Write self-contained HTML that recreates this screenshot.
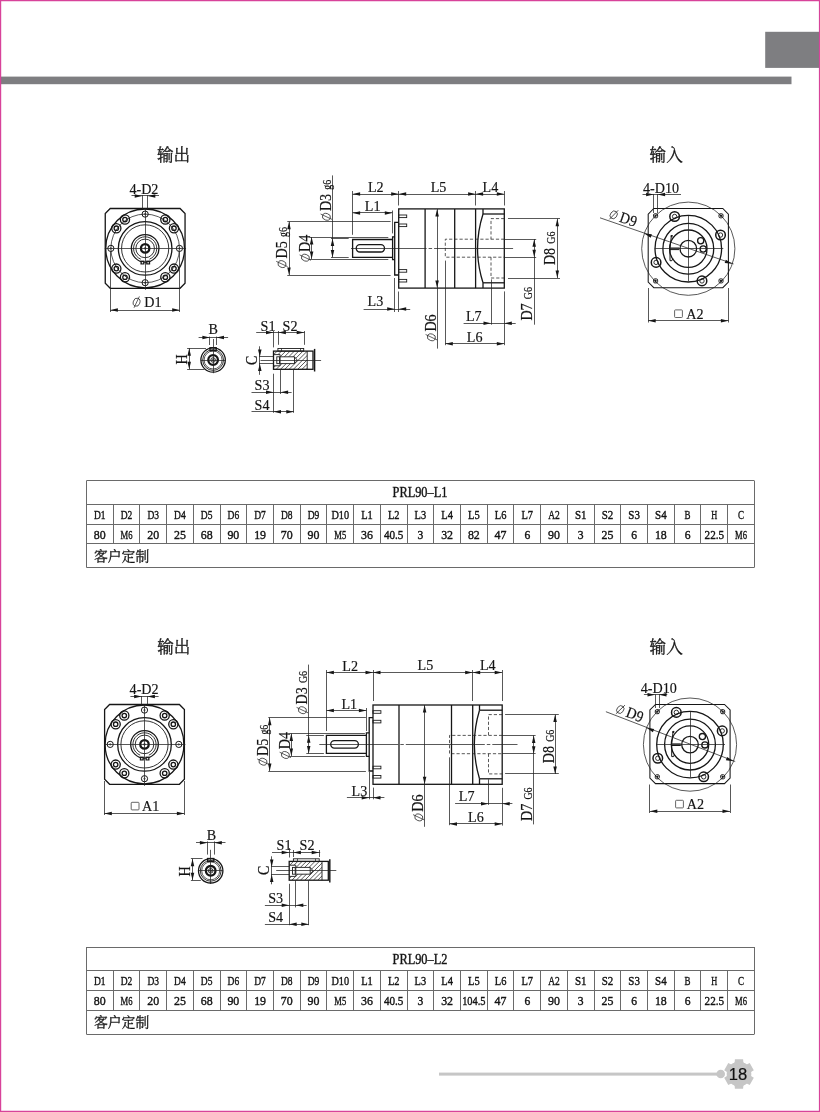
<!DOCTYPE html>
<html><head><meta charset="utf-8"><title>PRL90</title><style>
html,body{margin:0;padding:0;background:#fff;}
svg{display:block;will-change:transform;}
text{font-family:"Liberation Serif",serif;fill:#141414;stroke:#141414;stroke-width:0.18;}
.k{fill:none;stroke:#161616;stroke-width:1.3;}
.m{fill:none;stroke:#1c1c1c;stroke-width:0.9;}
.t{fill:none;stroke:#222;stroke-width:0.75;}
.s{fill:none;stroke:#1e1e1e;stroke-width:0.7;}
.d{fill:none;stroke:#222;stroke-width:0.75;stroke-dasharray:3.2 2;}
.a{fill:#161616;stroke:none;}
.f{fill:#1a1a1a;stroke:none;}
.w{fill:#fff;stroke:none;}
.g{fill:#161616;stroke:none;}
.pg{font-family:"Liberation Sans",sans-serif;fill:#111;}
.tt{stroke-width:0.4;}
.sq{fill:none;stroke:#555;stroke-width:0.9;rx:0.8px;}
.tb{fill:none;stroke:#6a6a6a;stroke-width:1;}
.cj{font-family:"Liberation Serif","Noto Serif CJK SC",serif;fill:#161616;stroke:#161616;stroke-width:0.3;}
</style></head><body>
<svg width="820" height="1112" viewBox="0 0 820 1112">
<rect x="0" y="0" width="820" height="1112" fill="#fff"/>
<rect x="765.2" y="31.8" width="54.8" height="36.1" fill="#7e7e81"/>
<rect x="0" y="76.6" width="791.5" height="7.6" fill="#7e7e81"/>
<rect x="439" y="1072.6" width="282" height="3" fill="#c6c6c6"/>
<circle cx="720.7" cy="1074" r="4.3" fill="#c6c6c6"/>
<path fill="#c6c6c6" d="M734.63 1062.61L734.91 1059.26L743.09 1059.26L743.37 1062.61L746.68 1064.52L749.72 1063.09L753.81 1070.17L751.05 1072.09L751.05 1075.91L753.81 1077.83L749.72 1084.91L746.68 1083.48L743.37 1085.39L743.09 1088.74L734.91 1088.74L734.63 1085.39L731.32 1083.48L728.28 1084.91L724.19 1077.83L726.95 1075.91L726.95 1072.09L724.19 1070.17L728.28 1063.09L731.32 1064.52Z"/>
<circle cx="739" cy="1074" r="12.3" fill="#c6c6c6"/>
<text x="738.1" y="1080.1" font-size="16.6" text-anchor="middle" class="pg">18</text>
<path fill="#d8439a" d="M0 0H820V1.2H0ZM0 0H1.2V1112H0ZM818.9 0H820V1112H818.9ZM0 1110.8H820V1112H0Z"/>
<text class="cj" x="156.90" y="160.90" font-size="16.6">输出</text>
<text class="cj" x="649.60" y="160.90" font-size="16.6">输入</text>
<path class="k" d="M110.25 208.50L180.05 208.50L185.05 213.50L185.05 283.30L180.05 288.30L110.25 288.30L105.25 283.30L105.25 213.50Z"/>
<circle class="k" cx="145.15" cy="248.40" r="39.40"/>
<circle class="t" cx="145.15" cy="248.40" r="34.30"/>
<circle class="k" cx="145.15" cy="248.40" r="26.80"/>
<circle class="m" cx="145.15" cy="248.40" r="23.60"/>
<circle class="k" cx="145.15" cy="248.40" r="13.80"/>
<path class="m" d="M149.50 259.16A11.6 11.6 0 1 0 140.80 259.16"/>
<circle class="m" cx="145.15" cy="248.40" r="9.30"/>
<circle class="k" cx="145.15" cy="248.40" r="4.20" style="stroke-width:2.3"/>
<circle class="t" cx="145.15" cy="248.40" r="0.90"/>
<rect class="f" x="140.45" y="260.60" width="4.00" height="3.90"/>
<rect class="f" x="146.15" y="260.60" width="4.00" height="3.90"/>
<circle class="w" cx="142.45" cy="262.70" r="0.80"/>
<circle class="w" cx="148.15" cy="262.70" r="0.80"/>
<circle class="k" cx="179.45" cy="248.40" r="3.10" fill="#fff" style="stroke-width:1.0"/>
<circle class="t" cx="179.45" cy="248.40" r="0.70"/>
<circle class="k" cx="145.15" cy="282.70" r="3.10" fill="#fff" style="stroke-width:1.0"/>
<circle class="t" cx="145.15" cy="282.70" r="0.70"/>
<circle class="k" cx="110.85" cy="248.40" r="3.10" fill="#fff" style="stroke-width:1.0"/>
<circle class="t" cx="110.85" cy="248.40" r="0.70"/>
<circle class="k" cx="145.15" cy="214.10" r="3.10" fill="#fff" style="stroke-width:1.0"/>
<circle class="t" cx="145.15" cy="214.10" r="0.70"/>
<circle class="k" cx="173.98" cy="268.59" r="4.60" fill="#fff"/>
<circle class="k" cx="173.98" cy="268.59" r="2.20"/>
<circle class="k" cx="165.34" cy="277.23" r="4.60" fill="#fff"/>
<circle class="k" cx="165.34" cy="277.23" r="2.20"/>
<circle class="k" cx="124.96" cy="277.23" r="4.60" fill="#fff"/>
<circle class="k" cx="124.96" cy="277.23" r="2.20"/>
<circle class="k" cx="116.32" cy="268.59" r="4.60" fill="#fff"/>
<circle class="k" cx="116.32" cy="268.59" r="2.20"/>
<circle class="k" cx="116.32" cy="228.21" r="4.60" fill="#fff"/>
<circle class="k" cx="116.32" cy="228.21" r="2.20"/>
<circle class="k" cx="124.96" cy="219.57" r="4.60" fill="#fff"/>
<circle class="k" cx="124.96" cy="219.57" r="2.20"/>
<circle class="k" cx="165.34" cy="219.57" r="4.60" fill="#fff"/>
<circle class="k" cx="165.34" cy="219.57" r="2.20"/>
<circle class="k" cx="173.98" cy="228.21" r="4.60" fill="#fff"/>
<circle class="k" cx="173.98" cy="228.21" r="2.20"/>
<path class="t" d="M104.75 248.50L186.05 248.50"/>
<path class="t" d="M145.50 208.50L145.50 289.80"/>
<text transform="translate(129.40 193.60) scale(0.905 1)" font-size="15.6">4-D2</text>
<path class="t" d="M131.50 195.50L159.00 195.50"/>
<path class="a" d="M142.20 195.90L134.70 197.65L134.70 194.15Z"/>
<path class="a" d="M147.80 195.90L155.30 194.15L155.30 197.65Z"/>
<path class="t" d="M142.50 195.00L142.50 209.00"/>
<path class="t" d="M147.50 195.00L147.50 209.00"/>
<path class="t" d="M110.50 251.40L110.50 312.00"/>
<path class="t" d="M179.50 251.40L179.50 312.00"/>
<path class="t" d="M110.40 310.50L179.70 310.50"/>
<path class="a" d="M110.40 310.00L117.90 308.25L117.90 311.75Z"/>
<path class="a" d="M179.70 310.00L172.20 311.75L172.20 308.25Z"/>
<g transform="translate(136.60 302.20) rotate(0)"><ellipse class="s" cx="0" cy="0" rx="3.3" ry="4.1" transform="rotate(18)"/><path class="s" d="M-2.6 5.6L2.8 -5.8"/></g>
<text transform="translate(144.30 306.80) scale(0.905 1)" font-size="15.6">D1</text>
<circle class="k" cx="213.10" cy="360.00" r="12.20"/>
<circle class="m" cx="213.10" cy="360.00" r="10.40"/>
<circle class="t" cx="213.10" cy="360.00" r="9.00"/>
<circle class="k" cx="213.10" cy="360.00" r="4.80" style="stroke-width:2.3"/>
<circle class="m" cx="213.10" cy="360.00" r="2.30"/>
<circle class="t" cx="213.10" cy="360.00" r="1.00"/>
<rect class="k" x="210.00" y="347.70" width="6.20" height="2.90" fill="#fff"/>
<path class="t" d="M200.90 360.50L225.30 360.50"/>
<path class="t" d="M213.50 339.00L213.50 373.20"/>
<text transform="translate(213.20 333.80) scale(0.905 1)" font-size="15.6" text-anchor="middle">B</text>
<path class="t" d="M198.60 337.50L228.10 337.50"/>
<path class="a" d="M209.90 337.60L202.40 339.35L202.40 335.85Z"/>
<path class="a" d="M216.50 337.60L224.00 335.85L224.00 339.35Z"/>
<path class="t" d="M209.50 336.60L209.50 345.00"/>
<path class="t" d="M216.50 336.60L216.50 345.00"/>
<path class="t" d="M189.50 348.20L189.50 369.20"/>
<path class="a" d="M189.20 348.20L190.95 355.70L187.45 355.70Z"/>
<path class="a" d="M189.20 369.20L187.45 361.70L190.95 361.70Z"/>
<path class="t" d="M187.10 348.50L206.00 348.50"/>
<path class="t" d="M187.10 369.50L204.50 369.50"/>
<text transform="translate(186.90 364.60) rotate(-90) scale(0.855 1)" font-size="16.5">H</text>
<clipPath id="hc273360"><path clip-rule="evenodd" d="M273.50 351.10H307.20V369.30H273.50Z M273.50 354.60H280.10V356.80H294.50L297.30 360.20L294.50 363.60H280.10V365.80H273.50Z"/></clipPath>
<path class="t" clip-path="url(#hc273360)" d="M254.70 369.30l18.20 -18.20M259.00 369.30l18.20 -18.20M263.30 369.30l18.20 -18.20M267.60 369.30l18.20 -18.20M271.90 369.30l18.20 -18.20M276.20 369.30l18.20 -18.20M280.50 369.30l18.20 -18.20M284.80 369.30l18.20 -18.20M289.10 369.30l18.20 -18.20M293.40 369.30l18.20 -18.20M297.70 369.30l18.20 -18.20M302.00 369.30l18.20 -18.20M306.30 369.30l18.20 -18.20M310.60 369.30l18.20 -18.20"/>
<rect class="k" x="273.50" y="351.10" width="39.50" height="18.20"/>
<path class="m" d="M307.20 351.10L307.20 369.30"/>
<path class="m" d="M273.50 354.60H280.10V365.80H273.50"/>
<path class="m" d="M280.10 356.80H294.50L297.30 360.20L294.50 363.60H280.10"/>
<path class="m" d="M294.50 356.80L294.50 363.60"/>
<rect class="m" x="276.80" y="356.80" width="2.70" height="6.80"/>
<rect class="m" x="277.90" y="348.50" width="25.80" height="2.60"/>
<path class="t" d="M281.50 348.50L281.50 351.10"/>
<path class="t" d="M300.50 348.50L300.50 351.10"/>
<path class="k" d="M314.60 348.90L314.60 371.50" style="stroke-width:1.45"/>
<path class="t" d="M260.50 360.50L321.10 360.50"/>
<path class="t" d="M256.20 332.50L304.60 332.50"/>
<path class="a" d="M273.50 332.60L266.00 334.35L266.00 330.85Z"/>
<path class="a" d="M278.40 332.60L285.90 330.85L285.90 334.35Z"/>
<path class="a" d="M304.20 332.60L296.70 334.35L296.70 330.85Z"/>
<path class="t" d="M273.50 331.00L273.50 347.40"/>
<path class="t" d="M278.50 331.00L278.50 344.80"/>
<path class="t" d="M304.50 331.00L304.50 344.80"/>
<text transform="translate(260.60 330.50) scale(0.905 1)" font-size="15.6">S1</text>
<text transform="translate(282.60 330.50) scale(0.905 1)" font-size="15.6">S2</text>
<path class="t" d="M259.50 346.30L259.50 374.80"/>
<path class="a" d="M259.80 356.90L258.05 349.40L261.55 349.40Z"/>
<path class="a" d="M259.80 363.50L261.55 371.00L258.05 371.00Z"/>
<path class="t" d="M259.00 356.50L273.50 356.50"/>
<path class="t" d="M259.00 363.50L273.50 363.50"/>
<text transform="translate(257.30 365.00) rotate(-90) scale(0.855 1)" font-size="16.5">C</text>
<path class="t" d="M251.50 392.50L291.60 392.50"/>
<path class="a" d="M273.50 392.20L266.00 393.95L266.00 390.45Z"/>
<path class="a" d="M280.60 392.20L288.10 390.45L288.10 393.95Z"/>
<path class="t" d="M251.50 411.50L293.80 411.50"/>
<path class="a" d="M273.50 411.80L281.00 410.05L281.00 413.55Z"/>
<path class="a" d="M293.80 411.80L286.30 413.55L286.30 410.05Z"/>
<path class="t" d="M273.50 373.70L273.50 412.80"/>
<path class="t" d="M280.50 369.30L280.50 394.00"/>
<path class="t" d="M293.50 369.30L293.50 412.80"/>
<text transform="translate(254.60 390.30) scale(0.905 1)" font-size="15.6">S3</text>
<text transform="translate(254.60 409.50) scale(0.905 1)" font-size="15.6">S4</text>
<rect class="k" x="398.70" y="208.90" width="105.60" height="79.20"/>
<path class="k" d="M425.10 208.90L425.10 288.10"/>
<path class="k" d="M454.70 208.90L454.70 288.10"/>
<path class="k" d="M475.60 208.90L475.60 288.10"/>
<path class="k" d="M483.00 208.90L483.00 214.00"/>
<path class="k" d="M483.00 282.80L483.00 288.10"/>
<path class="k" d="M483.00 214.00L504.30 214.00"/>
<path class="k" d="M483.00 282.80L504.30 282.80"/>
<path class="k" d="M483.00 214.00Q472.10 248.40 483.00 282.80"/>
<path class="k" d="M398.70 222.40H394.70V275.00H398.70"/>
<path class="k" d="M394.70 236.80H392.60V259.70H394.70"/>
<path class="k" d="M392.60 239.50H352.60V257.40H392.60"/>
<path class="k" d="M359.85 244.70H380.85A3.65 3.65 0 0 1 380.85 252.00H359.85A3.65 3.65 0 0 1 359.85 244.70Z"/>
<rect class="m" x="398.70" y="215.00" width="8.00" height="2.60"/>
<rect class="m" x="398.70" y="224.00" width="8.00" height="2.60"/>
<rect class="m" x="398.70" y="269.60" width="8.00" height="2.60"/>
<rect class="m" x="398.70" y="279.40" width="8.00" height="2.60"/>
<path class="t" d="M351.00 248.50L513.20 248.50" stroke-dasharray="79 2 3.5 2" stroke-dashoffset="3.4"/>
<path class="d" d="M504.30 239.20H445.30V257.20H504.30"/>
<path class="d" d="M504.30 218.60H491.00V239.20M491.00 257.20V278.00H504.30"/>
<path class="t" d="M352.60 194.50L504.30 194.50"/>
<path class="a" d="M352.60 194.00L360.10 192.25L360.10 195.75Z"/>
<path class="a" d="M398.70 194.00L391.20 195.75L391.20 192.25Z"/>
<path class="a" d="M398.70 194.00L406.20 192.25L406.20 195.75Z"/>
<path class="a" d="M475.60 194.00L468.10 195.75L468.10 192.25Z"/>
<path class="a" d="M475.60 194.00L483.10 192.25L483.10 195.75Z"/>
<path class="a" d="M504.30 194.00L496.80 195.75L496.80 192.25Z"/>
<path class="t" d="M352.50 191.00L352.50 234.80"/>
<path class="t" d="M398.50 191.00L398.50 205.50"/>
<path class="t" d="M475.50 191.00L475.50 205.50"/>
<path class="t" d="M504.50 191.00L504.50 205.50"/>
<text transform="translate(375.80 191.50) scale(0.905 1)" font-size="15.6" text-anchor="middle">L2</text>
<text transform="translate(438.50 191.50) scale(0.905 1)" font-size="15.6" text-anchor="middle">L5</text>
<text transform="translate(490.40 191.50) scale(0.905 1)" font-size="15.6" text-anchor="middle">L4</text>
<path class="t" d="M352.60 212.50L392.30 212.50"/>
<path class="a" d="M352.60 212.90L360.10 211.15L360.10 214.65Z"/>
<path class="a" d="M392.30 212.90L384.80 214.65L384.80 211.15Z"/>
<path class="t" d="M392.50 210.50L392.50 233.40"/>
<text transform="translate(372.60 210.50) scale(0.905 1)" font-size="15.6" text-anchor="middle">L1</text>
<path class="t" d="M363.60 309.50L410.20 309.50"/>
<path class="a" d="M394.70 309.00L387.20 310.75L387.20 307.25Z"/>
<path class="a" d="M398.70 309.00L406.20 307.25L406.20 310.75Z"/>
<path class="t" d="M394.50 278.00L394.50 312.00"/>
<path class="t" d="M398.50 291.50L398.50 312.00"/>
<text transform="translate(375.40 306.40) scale(0.905 1)" font-size="15.6" text-anchor="middle">L3</text>
<path class="t" d="M289.50 221.70L289.50 275.00"/>
<path class="a" d="M289.00 221.70L290.75 229.20L287.25 229.20Z"/>
<path class="a" d="M289.00 275.00L287.25 267.50L290.75 267.50Z"/>
<path class="t" d="M287.30 221.50L390.60 221.50"/>
<path class="t" d="M287.30 275.50L390.60 275.50"/>
<g transform="translate(282.00 264.10) rotate(-90)"><ellipse class="s" cx="0" cy="0" rx="3.3" ry="4.1" transform="rotate(18)"/><path class="s" d="M-2.6 5.6L2.8 -5.8"/></g>
<text transform="translate(286.60 258.40) rotate(-90) scale(0.855 1)" font-size="16.5">D5</text>
<text transform="translate(286.60 236.97) rotate(-90) scale(0.76 1)" font-size="13">g6</text>
<path class="t" d="M311.50 237.00L311.50 259.00"/>
<path class="a" d="M311.60 237.00L313.35 244.50L309.85 244.50Z"/>
<path class="a" d="M311.60 259.00L309.85 251.50L313.35 251.50Z"/>
<path class="t" d="M309.50 237.50L388.30 237.50"/>
<path class="t" d="M309.50 259.50L388.30 259.50"/>
<g transform="translate(305.40 257.70) rotate(-90)"><ellipse class="s" cx="0" cy="0" rx="3.3" ry="4.1" transform="rotate(18)"/><path class="s" d="M-2.6 5.6L2.8 -5.8"/></g>
<text transform="translate(310.00 252.00) rotate(-90) scale(0.855 1)" font-size="16.5">D4</text>
<path class="t" d="M332.50 175.40L332.50 257.40"/>
<path class="a" d="M332.50 238.50L334.25 246.00L330.75 246.00Z"/>
<path class="a" d="M332.50 257.40L330.75 249.90L334.25 249.90Z"/>
<path class="t" d="M331.00 238.50L348.70 238.50"/>
<path class="t" d="M331.00 257.50L348.70 257.50"/>
<g transform="translate(326.40 216.80) rotate(-90)"><ellipse class="s" cx="0" cy="0" rx="3.3" ry="4.1" transform="rotate(18)"/><path class="s" d="M-2.6 5.6L2.8 -5.8"/></g>
<text transform="translate(331.00 211.10) rotate(-90) scale(0.855 1)" font-size="16.5">D3</text>
<text transform="translate(331.00 189.67) rotate(-90) scale(0.76 1)" font-size="13">g6</text>
<path class="t" d="M437.50 209.00L437.50 348.60"/>
<path class="a" d="M437.10 209.00L438.85 216.50L435.35 216.50Z"/>
<path class="a" d="M437.10 288.00L435.35 280.50L438.85 280.50Z"/>
<g transform="translate(431.40 337.30) rotate(-90)"><ellipse class="s" cx="0" cy="0" rx="3.3" ry="4.1" transform="rotate(18)"/><path class="s" d="M-2.6 5.6L2.8 -5.8"/></g>
<text transform="translate(436.00 331.60) rotate(-90) scale(0.855 1)" font-size="16.5">D6</text>
<path class="t" d="M534.50 239.20L534.50 324.70"/>
<path class="a" d="M534.20 239.20L535.95 246.70L532.45 246.70Z"/>
<path class="a" d="M534.20 257.20L532.45 249.70L535.95 249.70Z"/>
<path class="t" d="M504.30 239.50L536.20 239.50"/>
<path class="t" d="M504.30 257.50L536.20 257.50"/>
<text transform="translate(531.80 320.60) rotate(-90) scale(0.855 1)" font-size="16.5">D7</text>
<text transform="translate(531.80 299.17) rotate(-90) scale(0.76 1)" font-size="13">G6</text>
<path class="t" d="M557.50 218.70L557.50 278.00"/>
<path class="a" d="M557.30 218.70L559.05 226.20L555.55 226.20Z"/>
<path class="a" d="M557.30 278.00L555.55 270.50L559.05 270.50Z"/>
<path class="t" d="M508.00 218.50L560.00 218.50"/>
<path class="t" d="M508.00 278.50L560.00 278.50"/>
<text transform="translate(554.90 265.10) rotate(-90) scale(0.855 1)" font-size="16.5">D8</text>
<text transform="translate(554.90 243.67) rotate(-90) scale(0.76 1)" font-size="13">G6</text>
<path class="t" d="M463.60 323.50L515.70 323.50"/>
<path class="a" d="M491.00 323.30L483.50 325.05L483.50 321.55Z"/>
<path class="a" d="M504.30 323.30L511.80 321.55L511.80 325.05Z"/>
<path class="t" d="M491.50 279.40L491.50 324.70"/>
<path class="t" d="M504.50 291.40L504.50 345.20"/>
<text transform="translate(473.80 321.30) scale(0.905 1)" font-size="15.6" text-anchor="middle">L7</text>
<path class="t" d="M445.30 343.50L504.30 343.50"/>
<path class="a" d="M445.30 343.80L452.80 342.05L452.80 345.55Z"/>
<path class="a" d="M504.30 343.80L496.80 345.55L496.80 342.05Z"/>
<path class="t" d="M445.50 260.60L445.50 345.20"/>
<text transform="translate(474.70 341.50) scale(0.905 1)" font-size="15.6" text-anchor="middle">L6</text>
<path class="k" d="M653.80 208.50L722.80 208.50L728.40 214.10L728.40 282.10L722.80 287.70L653.80 287.70L648.20 282.10L648.20 214.10Z" style="stroke-width:1.05"/>
<circle class="t" cx="688.30" cy="248.70" r="46.60"/>
<circle class="k" cx="688.30" cy="248.70" r="33.30"/>
<circle class="k" cx="688.30" cy="248.70" r="25.40"/>
<circle class="k" cx="688.30" cy="248.70" r="18.70"/>
<circle class="k" cx="688.30" cy="248.70" r="8.30"/>
<circle class="k" cx="674.62" cy="216.48" r="4.80" fill="#fff" style="stroke-width:1.5"/>
<circle class="m" cx="674.62" cy="216.48" r="2.20"/>
<circle class="k" cx="720.52" cy="235.02" r="4.80" fill="#fff" style="stroke-width:1.5"/>
<circle class="m" cx="720.52" cy="235.02" r="2.20"/>
<circle class="k" cx="701.98" cy="280.92" r="4.80" fill="#fff" style="stroke-width:1.5"/>
<circle class="m" cx="701.98" cy="280.92" r="2.20"/>
<circle class="k" cx="656.08" cy="262.38" r="4.80" fill="#fff" style="stroke-width:1.5"/>
<circle class="m" cx="656.08" cy="262.38" r="2.20"/>
<rect class="k" x="653.60" y="213.80" width="4.00" height="4.00" rx="1.2" style="stroke-width:1.0"/>
<circle class="f" cx="655.60" cy="215.80" r="1.15"/>
<rect class="k" x="653.60" y="278.90" width="4.00" height="4.00" rx="1.2" style="stroke-width:1.0"/>
<circle class="f" cx="655.60" cy="280.90" r="1.15"/>
<rect class="k" x="719.00" y="213.80" width="4.00" height="4.00" rx="1.2" style="stroke-width:1.0"/>
<circle class="f" cx="721.00" cy="215.80" r="1.15"/>
<rect class="k" x="719.00" y="278.90" width="4.00" height="4.00" rx="1.2" style="stroke-width:1.0"/>
<circle class="f" cx="721.00" cy="280.90" r="1.15"/>
<circle class="k" cx="700.70" cy="240.70" r="3.10"/>
<circle class="k" cx="703.20" cy="249.00" r="3.10"/>
<path class="k" d="M672.50 235.50L671.40 235.50L670.00 247.90L670.00 260.70L671.90 260.70L672.90 258.30" style="stroke-width:1.0"/>
<path class="k" d="M670.00 248.00L679.10 248.00" style="stroke-width:1.0"/>
<path class="k" d="M670.00 249.60L679.10 249.60" style="stroke-width:1.0"/>
<rect class="f" x="670.70" y="235.10" width="1.80" height="2.00"/>
<path class="t" d="M654.80 248.50L723.30 248.50"/>
<path class="t" d="M688.50 215.70L688.50 281.20"/>
<text transform="translate(643.00 192.80) scale(0.905 1)" font-size="15.6">4-D10</text>
<path class="t" d="M642.50 194.50L681.00 194.50"/>
<path class="a" d="M653.60 194.40L646.10 196.15L646.10 192.65Z"/>
<path class="a" d="M657.60 194.40L665.10 192.65L665.10 196.15Z"/>
<path class="t" d="M653.50 194.00L653.50 213.00"/>
<path class="t" d="M657.50 194.00L657.50 213.00"/>
<path class="t" d="M600.00 217.80L733.50 263.90"/>
<path class="a" d="M644.23 233.56L651.89 234.34L650.75 237.65Z"/>
<path class="a" d="M732.37 263.84L724.71 263.06L725.85 259.75Z"/>
<g transform="translate(608.4 217.9) rotate(18.96)">
<g transform="translate(4.00 -4.60) rotate(0)"><ellipse class="s" cx="0" cy="0" rx="3.3" ry="4.1" transform="rotate(18)"/><path class="s" d="M-2.6 5.6L2.8 -5.8"/></g>
<text transform="translate(10.80 0.00) scale(0.905 1)" font-size="15.6">D9</text>
</g>
<path class="t" d="M648.20 320.50L728.40 320.50"/>
<path class="a" d="M648.20 320.80L655.70 319.05L655.70 322.55Z"/>
<path class="a" d="M728.40 320.80L720.90 322.55L720.90 319.05Z"/>
<path class="t" d="M648.50 288.00L648.50 322.50"/>
<path class="t" d="M728.50 288.00L728.50 322.50"/>
<rect class="sq" x="674.60" y="309.90" width="7.80" height="7.60"/>
<text transform="translate(686.20 318.60) scale(0.905 1)" font-size="15.6">A2</text>
<path class="tb" d="M86.40 480.50L754.40 480.50"/>
<path class="tb" d="M86.40 504.50L754.40 504.50"/>
<path class="tb" d="M86.40 524.50L754.40 524.50"/>
<path class="tb" d="M86.40 543.50L754.40 543.50"/>
<path class="tb" d="M86.40 567.50L754.40 567.50"/>
<path class="tb" d="M86.50 480.80L86.50 567.40"/>
<path class="tb" d="M754.50 480.80L754.50 567.40"/>
<path class="tb" d="M113.50 504.40L113.50 543.30"/>
<path class="tb" d="M139.50 504.40L139.50 543.30"/>
<path class="tb" d="M166.50 504.40L166.50 543.30"/>
<path class="tb" d="M193.50 504.40L193.50 543.30"/>
<path class="tb" d="M220.50 504.40L220.50 543.30"/>
<path class="tb" d="M246.50 504.40L246.50 543.30"/>
<path class="tb" d="M273.50 504.40L273.50 543.30"/>
<path class="tb" d="M300.50 504.40L300.50 543.30"/>
<path class="tb" d="M326.50 504.40L326.50 543.30"/>
<path class="tb" d="M353.50 504.40L353.50 543.30"/>
<path class="tb" d="M380.50 504.40L380.50 543.30"/>
<path class="tb" d="M407.50 504.40L407.50 543.30"/>
<path class="tb" d="M433.50 504.40L433.50 543.30"/>
<path class="tb" d="M460.50 504.40L460.50 543.30"/>
<path class="tb" d="M487.50 504.40L487.50 543.30"/>
<path class="tb" d="M513.50 504.40L513.50 543.30"/>
<path class="tb" d="M540.50 504.40L540.50 543.30"/>
<path class="tb" d="M567.50 504.40L567.50 543.30"/>
<path class="tb" d="M594.50 504.40L594.50 543.30"/>
<path class="tb" d="M620.50 504.40L620.50 543.30"/>
<path class="tb" d="M647.50 504.40L647.50 543.30"/>
<path class="tb" d="M674.50 504.40L674.50 543.30"/>
<path class="tb" d="M700.50 504.40L700.50 543.30"/>
<path class="tb" d="M727.50 504.40L727.50 543.30"/>
<text x="420.00" y="497.40" font-size="14" text-anchor="middle" textLength="54.80" lengthAdjust="spacingAndGlyphs" class="tt">PRL90–L1</text>
<text x="99.76" y="518.70" font-size="13" text-anchor="middle" textLength="11.60" lengthAdjust="spacingAndGlyphs" class="tt">D1</text>
<text x="99.76" y="538.90" font-size="13" text-anchor="middle" textLength="11.90" lengthAdjust="spacingAndGlyphs" class="tt">80</text>
<text x="126.48" y="518.70" font-size="13" text-anchor="middle" textLength="11.60" lengthAdjust="spacingAndGlyphs" class="tt">D2</text>
<text x="126.48" y="538.90" font-size="13" text-anchor="middle" textLength="11.90" lengthAdjust="spacingAndGlyphs" class="tt">M6</text>
<text x="153.20" y="518.70" font-size="13" text-anchor="middle" textLength="11.60" lengthAdjust="spacingAndGlyphs" class="tt">D3</text>
<text x="153.20" y="538.90" font-size="13" text-anchor="middle" textLength="11.90" lengthAdjust="spacingAndGlyphs" class="tt">20</text>
<text x="179.92" y="518.70" font-size="13" text-anchor="middle" textLength="11.60" lengthAdjust="spacingAndGlyphs" class="tt">D4</text>
<text x="179.92" y="538.90" font-size="13" text-anchor="middle" textLength="11.90" lengthAdjust="spacingAndGlyphs" class="tt">25</text>
<text x="206.64" y="518.70" font-size="13" text-anchor="middle" textLength="11.60" lengthAdjust="spacingAndGlyphs" class="tt">D5</text>
<text x="206.64" y="538.90" font-size="13" text-anchor="middle" textLength="11.90" lengthAdjust="spacingAndGlyphs" class="tt">68</text>
<text x="233.36" y="518.70" font-size="13" text-anchor="middle" textLength="11.60" lengthAdjust="spacingAndGlyphs" class="tt">D6</text>
<text x="233.36" y="538.90" font-size="13" text-anchor="middle" textLength="11.90" lengthAdjust="spacingAndGlyphs" class="tt">90</text>
<text x="260.08" y="518.70" font-size="13" text-anchor="middle" textLength="11.60" lengthAdjust="spacingAndGlyphs" class="tt">D7</text>
<text x="260.08" y="538.90" font-size="13" text-anchor="middle" textLength="11.90" lengthAdjust="spacingAndGlyphs" class="tt">19</text>
<text x="286.80" y="518.70" font-size="13" text-anchor="middle" textLength="11.60" lengthAdjust="spacingAndGlyphs" class="tt">D8</text>
<text x="286.80" y="538.90" font-size="13" text-anchor="middle" textLength="11.90" lengthAdjust="spacingAndGlyphs" class="tt">70</text>
<text x="313.52" y="518.70" font-size="13" text-anchor="middle" textLength="11.60" lengthAdjust="spacingAndGlyphs" class="tt">D9</text>
<text x="313.52" y="538.90" font-size="13" text-anchor="middle" textLength="11.90" lengthAdjust="spacingAndGlyphs" class="tt">90</text>
<text x="340.24" y="518.70" font-size="13" text-anchor="middle" textLength="17.60" lengthAdjust="spacingAndGlyphs" class="tt">D10</text>
<text x="340.24" y="538.90" font-size="13" text-anchor="middle" textLength="11.90" lengthAdjust="spacingAndGlyphs" class="tt">M5</text>
<text x="366.96" y="518.70" font-size="13" text-anchor="middle" textLength="11.60" lengthAdjust="spacingAndGlyphs" class="tt">L1</text>
<text x="366.96" y="538.90" font-size="13" text-anchor="middle" textLength="11.90" lengthAdjust="spacingAndGlyphs" class="tt">36</text>
<text x="393.68" y="518.70" font-size="13" text-anchor="middle" textLength="11.60" lengthAdjust="spacingAndGlyphs" class="tt">L2</text>
<text x="393.68" y="538.90" font-size="13" text-anchor="middle" textLength="19.50" lengthAdjust="spacingAndGlyphs" class="tt">40.5</text>
<text x="420.40" y="518.70" font-size="13" text-anchor="middle" textLength="11.60" lengthAdjust="spacingAndGlyphs" class="tt">L3</text>
<text x="420.40" y="538.90" font-size="13" text-anchor="middle" textLength="5.80" lengthAdjust="spacingAndGlyphs" class="tt">3</text>
<text x="447.12" y="518.70" font-size="13" text-anchor="middle" textLength="11.60" lengthAdjust="spacingAndGlyphs" class="tt">L4</text>
<text x="447.12" y="538.90" font-size="13" text-anchor="middle" textLength="11.90" lengthAdjust="spacingAndGlyphs" class="tt">32</text>
<text x="473.84" y="518.70" font-size="13" text-anchor="middle" textLength="11.60" lengthAdjust="spacingAndGlyphs" class="tt">L5</text>
<text x="473.84" y="538.90" font-size="13" text-anchor="middle" textLength="11.90" lengthAdjust="spacingAndGlyphs" class="tt">82</text>
<text x="500.56" y="518.70" font-size="13" text-anchor="middle" textLength="11.60" lengthAdjust="spacingAndGlyphs" class="tt">L6</text>
<text x="500.56" y="538.90" font-size="13" text-anchor="middle" textLength="11.90" lengthAdjust="spacingAndGlyphs" class="tt">47</text>
<text x="527.28" y="518.70" font-size="13" text-anchor="middle" textLength="11.60" lengthAdjust="spacingAndGlyphs" class="tt">L7</text>
<text x="527.28" y="538.90" font-size="13" text-anchor="middle" textLength="5.80" lengthAdjust="spacingAndGlyphs" class="tt">6</text>
<text x="554.00" y="518.70" font-size="13" text-anchor="middle" textLength="11.60" lengthAdjust="spacingAndGlyphs" class="tt">A2</text>
<text x="554.00" y="538.90" font-size="13" text-anchor="middle" textLength="11.90" lengthAdjust="spacingAndGlyphs" class="tt">90</text>
<text x="580.72" y="518.70" font-size="13" text-anchor="middle" textLength="11.60" lengthAdjust="spacingAndGlyphs" class="tt">S1</text>
<text x="580.72" y="538.90" font-size="13" text-anchor="middle" textLength="5.80" lengthAdjust="spacingAndGlyphs" class="tt">3</text>
<text x="607.44" y="518.70" font-size="13" text-anchor="middle" textLength="11.60" lengthAdjust="spacingAndGlyphs" class="tt">S2</text>
<text x="607.44" y="538.90" font-size="13" text-anchor="middle" textLength="11.90" lengthAdjust="spacingAndGlyphs" class="tt">25</text>
<text x="634.16" y="518.70" font-size="13" text-anchor="middle" textLength="11.60" lengthAdjust="spacingAndGlyphs" class="tt">S3</text>
<text x="634.16" y="538.90" font-size="13" text-anchor="middle" textLength="5.80" lengthAdjust="spacingAndGlyphs" class="tt">6</text>
<text x="660.88" y="518.70" font-size="13" text-anchor="middle" textLength="11.60" lengthAdjust="spacingAndGlyphs" class="tt">S4</text>
<text x="660.88" y="538.90" font-size="13" text-anchor="middle" textLength="11.90" lengthAdjust="spacingAndGlyphs" class="tt">18</text>
<text x="687.60" y="518.70" font-size="13" text-anchor="middle" textLength="6.00" lengthAdjust="spacingAndGlyphs" class="tt">B</text>
<text x="687.60" y="538.90" font-size="13" text-anchor="middle" textLength="5.80" lengthAdjust="spacingAndGlyphs" class="tt">6</text>
<text x="714.32" y="518.70" font-size="13" text-anchor="middle" textLength="6.00" lengthAdjust="spacingAndGlyphs" class="tt">H</text>
<text x="714.32" y="538.90" font-size="13" text-anchor="middle" textLength="19.50" lengthAdjust="spacingAndGlyphs" class="tt">22.5</text>
<text x="741.04" y="518.70" font-size="13" text-anchor="middle" textLength="6.00" lengthAdjust="spacingAndGlyphs" class="tt">C</text>
<text x="741.04" y="538.90" font-size="13" text-anchor="middle" textLength="11.90" lengthAdjust="spacingAndGlyphs" class="tt">M6</text>
<text class="cj" x="94.00" y="560.80" font-size="13.8">客户定制</text>
<text class="cj" x="157.20" y="652.60" font-size="16.6">输出</text>
<text class="cj" x="649.60" y="652.60" font-size="16.6">输入</text>
<path class="k" d="M109.60 704.50L179.40 704.50L184.40 709.50L184.40 779.30L179.40 784.30L109.60 784.30L104.60 779.30L104.60 709.50Z"/>
<circle class="k" cx="144.50" cy="744.40" r="39.40"/>
<circle class="k" cx="144.50" cy="744.40" r="26.80"/>
<circle class="m" cx="144.50" cy="744.40" r="23.60"/>
<circle class="k" cx="144.50" cy="744.40" r="13.80"/>
<path class="m" d="M148.85 755.16A11.6 11.6 0 1 0 140.15 755.16"/>
<circle class="m" cx="144.50" cy="744.40" r="9.30"/>
<circle class="k" cx="144.50" cy="744.40" r="4.20" style="stroke-width:2.3"/>
<circle class="t" cx="144.50" cy="744.40" r="0.90"/>
<rect class="f" x="139.80" y="756.60" width="4.00" height="3.90"/>
<rect class="f" x="145.50" y="756.60" width="4.00" height="3.90"/>
<circle class="w" cx="141.80" cy="758.70" r="0.80"/>
<circle class="w" cx="147.50" cy="758.70" r="0.80"/>
<circle class="k" cx="178.80" cy="744.40" r="3.10" fill="#fff" style="stroke-width:1.0"/>
<circle class="t" cx="178.80" cy="744.40" r="0.70"/>
<circle class="k" cx="144.50" cy="778.70" r="3.10" fill="#fff" style="stroke-width:1.0"/>
<circle class="t" cx="144.50" cy="778.70" r="0.70"/>
<circle class="k" cx="110.20" cy="744.40" r="3.10" fill="#fff" style="stroke-width:1.0"/>
<circle class="t" cx="110.20" cy="744.40" r="0.70"/>
<circle class="k" cx="144.50" cy="710.10" r="3.10" fill="#fff" style="stroke-width:1.0"/>
<circle class="t" cx="144.50" cy="710.10" r="0.70"/>
<circle class="k" cx="173.33" cy="764.59" r="4.60" fill="#fff"/>
<circle class="k" cx="173.33" cy="764.59" r="2.20"/>
<circle class="k" cx="164.69" cy="773.23" r="4.60" fill="#fff"/>
<circle class="k" cx="164.69" cy="773.23" r="2.20"/>
<circle class="k" cx="124.31" cy="773.23" r="4.60" fill="#fff"/>
<circle class="k" cx="124.31" cy="773.23" r="2.20"/>
<circle class="k" cx="115.67" cy="764.59" r="4.60" fill="#fff"/>
<circle class="k" cx="115.67" cy="764.59" r="2.20"/>
<circle class="k" cx="115.67" cy="724.21" r="4.60" fill="#fff"/>
<circle class="k" cx="115.67" cy="724.21" r="2.20"/>
<circle class="k" cx="124.31" cy="715.57" r="4.60" fill="#fff"/>
<circle class="k" cx="124.31" cy="715.57" r="2.20"/>
<circle class="k" cx="164.69" cy="715.57" r="4.60" fill="#fff"/>
<circle class="k" cx="164.69" cy="715.57" r="2.20"/>
<circle class="k" cx="173.33" cy="724.21" r="4.60" fill="#fff"/>
<circle class="k" cx="173.33" cy="724.21" r="2.20"/>
<path class="t" d="M104.10 744.50L185.40 744.50"/>
<path class="t" d="M144.50 704.50L144.50 785.80"/>
<text transform="translate(129.60 694.30) scale(0.905 1)" font-size="15.6">4-D2</text>
<path class="t" d="M130.40 696.50L158.60 696.50"/>
<path class="a" d="M141.60 696.60L134.10 698.35L134.10 694.85Z"/>
<path class="a" d="M147.40 696.60L154.90 694.85L154.90 698.35Z"/>
<path class="t" d="M141.50 696.00L141.50 705.50"/>
<path class="t" d="M147.50 696.00L147.50 705.50"/>
<path class="t" d="M104.50 781.00L104.50 815.00"/>
<path class="t" d="M184.50 781.00L184.50 815.00"/>
<path class="t" d="M104.30 813.50L184.40 813.50"/>
<path class="a" d="M104.30 813.50L111.80 811.75L111.80 815.25Z"/>
<path class="a" d="M184.40 813.50L176.90 815.25L176.90 811.75Z"/>
<rect class="sq" x="131.20" y="802.30" width="7.80" height="7.60"/>
<text transform="translate(142.00 811.00) scale(0.905 1)" font-size="15.6">A1</text>
<circle class="k" cx="210.70" cy="870.80" r="12.20"/>
<circle class="m" cx="210.70" cy="870.80" r="10.40"/>
<circle class="t" cx="210.70" cy="870.80" r="9.00"/>
<circle class="k" cx="210.70" cy="870.80" r="4.80" style="stroke-width:2.3"/>
<circle class="m" cx="210.70" cy="870.80" r="2.30"/>
<circle class="t" cx="210.70" cy="870.80" r="1.00"/>
<rect class="k" x="207.60" y="858.50" width="6.20" height="2.90" fill="#fff"/>
<path class="t" d="M198.50 870.50L222.90 870.50"/>
<path class="t" d="M210.50 849.80L210.50 884.00"/>
<text transform="translate(211.50 840.20) scale(0.905 1)" font-size="15.6" text-anchor="middle">B</text>
<path class="t" d="M196.00 842.50L225.50 842.50"/>
<path class="a" d="M207.40 842.80L199.90 844.55L199.90 841.05Z"/>
<path class="a" d="M214.30 842.80L221.80 841.05L221.80 844.55Z"/>
<path class="t" d="M207.50 841.40L207.50 854.60"/>
<path class="t" d="M214.50 841.40L214.50 854.60"/>
<path class="t" d="M192.50 858.70L192.50 880.20"/>
<path class="a" d="M192.50 858.70L194.25 866.20L190.75 866.20Z"/>
<path class="a" d="M192.50 880.20L190.75 872.70L194.25 872.70Z"/>
<path class="t" d="M190.90 858.50L202.50 858.50"/>
<path class="t" d="M190.90 880.50L200.80 880.50"/>
<text transform="translate(190.00 876.40) rotate(-90) scale(0.855 1)" font-size="16.5">H</text>
<clipPath id="hc289870"><path clip-rule="evenodd" d="M289.20 861.40H322.00V880.20H289.20Z M289.20 865.20H295.80V867.40H310.20L313.00 870.80L310.20 874.20H295.80V876.40H289.20Z"/></clipPath>
<path class="t" clip-path="url(#hc289870)" d="M270.40 880.20l18.80 -18.80M274.70 880.20l18.80 -18.80M279.00 880.20l18.80 -18.80M283.30 880.20l18.80 -18.80M287.60 880.20l18.80 -18.80M291.90 880.20l18.80 -18.80M296.20 880.20l18.80 -18.80M300.50 880.20l18.80 -18.80M304.80 880.20l18.80 -18.80M309.10 880.20l18.80 -18.80M313.40 880.20l18.80 -18.80M317.70 880.20l18.80 -18.80M322.00 880.20l18.80 -18.80M326.30 880.20l18.80 -18.80"/>
<rect class="k" x="289.20" y="861.40" width="39.10" height="18.80"/>
<path class="m" d="M322.00 861.40L322.00 880.20"/>
<path class="m" d="M289.20 865.20H295.80V876.40H289.20"/>
<path class="m" d="M295.80 867.40H310.20L313.00 870.80L310.20 874.20H295.80"/>
<path class="m" d="M310.20 867.40L310.20 874.20"/>
<rect class="m" x="292.50" y="867.40" width="2.70" height="6.80"/>
<rect class="m" x="293.40" y="858.80" width="25.80" height="2.60"/>
<path class="t" d="M297.50 858.80L297.50 861.40"/>
<path class="t" d="M315.50 858.80L315.50 861.40"/>
<path class="k" d="M329.80 859.20L329.80 882.40" style="stroke-width:1.45"/>
<path class="t" d="M276.20 870.50L336.30 870.50"/>
<path class="t" d="M272.00 852.50L320.20 852.50"/>
<path class="a" d="M289.20 852.50L281.70 854.25L281.70 850.75Z"/>
<path class="a" d="M293.40 852.50L300.90 850.75L300.90 854.25Z"/>
<path class="a" d="M319.20 852.50L311.70 854.25L311.70 850.75Z"/>
<path class="t" d="M289.50 848.00L289.50 857.50"/>
<path class="t" d="M293.50 850.00L293.50 857.00"/>
<path class="t" d="M319.50 850.00L319.50 857.00"/>
<text transform="translate(276.60 850.40) scale(0.905 1)" font-size="15.6">S1</text>
<text transform="translate(299.60 850.40) scale(0.905 1)" font-size="15.6">S2</text>
<path class="t" d="M271.50 856.30L271.50 884.30"/>
<path class="a" d="M271.70 866.90L269.95 859.40L273.45 859.40Z"/>
<path class="a" d="M271.70 874.60L273.45 882.10L269.95 882.10Z"/>
<path class="t" d="M271.00 866.50L289.20 866.50"/>
<path class="t" d="M271.00 874.50L289.20 874.50"/>
<text transform="translate(269.40 875.00) rotate(-90) scale(0.855 1)" font-size="16.5">C</text>
<path class="t" d="M264.90 905.50L306.60 905.50"/>
<path class="a" d="M289.20 905.20L281.70 906.95L281.70 903.45Z"/>
<path class="a" d="M295.80 905.20L303.30 903.45L303.30 906.95Z"/>
<path class="t" d="M264.90 924.50L308.80 924.50"/>
<path class="a" d="M289.20 924.20L296.70 922.45L296.70 925.95Z"/>
<path class="a" d="M308.80 924.20L301.30 925.95L301.30 922.45Z"/>
<path class="t" d="M289.50 883.80L289.50 925.20"/>
<path class="t" d="M295.50 880.50L295.50 907.40"/>
<path class="t" d="M308.50 880.50L308.50 925.20"/>
<text transform="translate(268.20 903.40) scale(0.905 1)" font-size="15.6">S3</text>
<text transform="translate(268.20 922.30) scale(0.905 1)" font-size="15.6">S4</text>
<rect class="k" x="373.00" y="705.00" width="129.20" height="79.30"/>
<path class="k" d="M399.00 705.00L399.00 784.30"/>
<path class="k" d="M451.50 705.00L451.50 784.30"/>
<path class="k" d="M472.70 705.00L472.70 784.30"/>
<path class="k" d="M479.50 705.00L479.50 710.20"/>
<path class="k" d="M479.50 778.80L479.50 784.30"/>
<path class="k" d="M479.50 710.20L502.20 710.20"/>
<path class="k" d="M479.50 778.80L502.20 778.80"/>
<path class="k" d="M479.50 710.20Q469.20 744.10 479.50 778.80"/>
<path class="k" d="M373.00 717.70H369.20V771.00H373.00"/>
<path class="k" d="M369.20 732.90H366.40V756.30H369.20"/>
<path class="k" d="M366.40 735.30H326.40V753.40H366.40"/>
<path class="k" d="M334.45 740.60H354.65A3.75 3.75 0 0 1 354.65 748.10H334.45A3.75 3.75 0 0 1 334.45 740.60Z"/>
<rect class="m" x="373.00" y="710.70" width="7.90" height="2.60"/>
<rect class="m" x="373.00" y="720.30" width="7.90" height="2.60"/>
<rect class="m" x="373.00" y="766.20" width="7.90" height="2.60"/>
<rect class="m" x="373.00" y="775.50" width="7.90" height="2.60"/>
<path class="t" d="M319.30 744.50L517.50 744.50" stroke-dasharray="79 2 3.5 2" stroke-dashoffset="0"/>
<path class="d" d="M502.20 735.40H449.50V753.70H502.20"/>
<path class="d" d="M502.20 714.60H488.50V735.40M488.50 753.70V773.90H502.20"/>
<path class="t" d="M326.40 672.50L502.20 672.50"/>
<path class="a" d="M326.40 672.40L333.90 670.65L333.90 674.15Z"/>
<path class="a" d="M373.00 672.40L365.50 674.15L365.50 670.65Z"/>
<path class="a" d="M373.00 672.40L380.50 670.65L380.50 674.15Z"/>
<path class="a" d="M472.70 672.40L465.20 674.15L465.20 670.65Z"/>
<path class="a" d="M472.70 672.40L480.20 670.65L480.20 674.15Z"/>
<path class="a" d="M502.20 672.40L494.70 674.15L494.70 670.65Z"/>
<path class="t" d="M326.50 670.00L326.50 731.00"/>
<path class="t" d="M373.50 670.00L373.50 701.00"/>
<path class="t" d="M472.50 670.00L472.50 701.00"/>
<path class="t" d="M502.50 670.00L502.50 701.00"/>
<text transform="translate(350.20 670.50) scale(0.905 1)" font-size="15.6" text-anchor="middle">L2</text>
<text transform="translate(425.40 669.80) scale(0.905 1)" font-size="15.6" text-anchor="middle">L5</text>
<text transform="translate(487.80 669.80) scale(0.905 1)" font-size="15.6" text-anchor="middle">L4</text>
<path class="t" d="M326.40 710.50L366.40 710.50"/>
<path class="a" d="M326.40 710.50L333.90 708.75L333.90 712.25Z"/>
<path class="a" d="M366.40 710.50L358.90 712.25L358.90 708.75Z"/>
<path class="t" d="M366.50 708.00L366.50 731.00"/>
<text transform="translate(349.30 708.50) scale(0.905 1)" font-size="15.6" text-anchor="middle">L1</text>
<path class="t" d="M346.90 797.50L384.40 797.50"/>
<path class="a" d="M369.20 797.70L361.70 799.45L361.70 795.95Z"/>
<path class="a" d="M373.00 797.70L380.50 795.95L380.50 799.45Z"/>
<path class="t" d="M369.50 772.00L369.50 799.30"/>
<path class="t" d="M373.50 787.60L373.50 799.30"/>
<text transform="translate(359.40 796.00) scale(0.905 1)" font-size="15.6" text-anchor="middle">L3</text>
<path class="t" d="M269.50 717.70L269.50 771.00"/>
<path class="a" d="M269.70 717.70L271.45 725.20L267.95 725.20Z"/>
<path class="a" d="M269.70 771.00L267.95 763.50L271.45 763.50Z"/>
<path class="t" d="M268.30 717.50L365.90 717.50"/>
<path class="t" d="M268.30 771.50L365.90 771.50"/>
<g transform="translate(263.00 761.70) rotate(-90)"><ellipse class="s" cx="0" cy="0" rx="3.3" ry="4.1" transform="rotate(18)"/><path class="s" d="M-2.6 5.6L2.8 -5.8"/></g>
<text transform="translate(267.60 756.00) rotate(-90) scale(0.855 1)" font-size="16.5">D5</text>
<text transform="translate(267.60 734.57) rotate(-90) scale(0.76 1)" font-size="13">g6</text>
<path class="t" d="M291.50 733.50L291.50 756.00"/>
<path class="a" d="M291.30 733.50L293.05 741.00L289.55 741.00Z"/>
<path class="a" d="M291.30 756.00L289.55 748.50L293.05 748.50Z"/>
<path class="t" d="M289.80 733.50L364.90 733.50"/>
<path class="t" d="M289.80 756.50L364.90 756.50"/>
<g transform="translate(285.40 755.00) rotate(-90)"><ellipse class="s" cx="0" cy="0" rx="3.3" ry="4.1" transform="rotate(18)"/><path class="s" d="M-2.6 5.6L2.8 -5.8"/></g>
<text transform="translate(290.00 749.30) rotate(-90) scale(0.855 1)" font-size="16.5">D4</text>
<path class="t" d="M308.50 664.60L308.50 753.40"/>
<path class="a" d="M308.70 735.30L310.45 742.80L306.95 742.80Z"/>
<path class="a" d="M308.70 753.40L306.95 745.90L310.45 745.90Z"/>
<path class="t" d="M306.30 735.50L323.90 735.50"/>
<path class="t" d="M306.30 753.50L323.90 753.50"/>
<g transform="translate(302.40 710.20) rotate(-90)"><ellipse class="s" cx="0" cy="0" rx="3.3" ry="4.1" transform="rotate(18)"/><path class="s" d="M-2.6 5.6L2.8 -5.8"/></g>
<text transform="translate(307.00 704.50) rotate(-90) scale(0.855 1)" font-size="16.5">D3</text>
<text transform="translate(307.00 683.07) rotate(-90) scale(0.76 1)" font-size="13">G6</text>
<path class="t" d="M424.50 705.00L424.50 826.80"/>
<path class="a" d="M424.60 705.00L426.35 712.50L422.85 712.50Z"/>
<path class="a" d="M424.60 784.30L422.85 776.80L426.35 776.80Z"/>
<g transform="translate(418.80 817.40) rotate(-90)"><ellipse class="s" cx="0" cy="0" rx="3.3" ry="4.1" transform="rotate(18)"/><path class="s" d="M-2.6 5.6L2.8 -5.8"/></g>
<text transform="translate(423.40 811.70) rotate(-90) scale(0.855 1)" font-size="16.5">D6</text>
<path class="t" d="M533.50 735.40L533.50 824.40"/>
<path class="a" d="M533.70 735.40L535.45 742.90L531.95 742.90Z"/>
<path class="a" d="M533.70 753.70L531.95 746.20L535.45 746.20Z"/>
<path class="t" d="M502.20 735.50L535.60 735.50"/>
<path class="t" d="M502.20 753.50L535.60 753.50"/>
<text transform="translate(532.00 821.00) rotate(-90) scale(0.855 1)" font-size="16.5">D7</text>
<text transform="translate(532.00 799.57) rotate(-90) scale(0.76 1)" font-size="13">G6</text>
<path class="t" d="M555.50 714.60L555.50 773.90"/>
<path class="a" d="M555.10 714.60L556.85 722.10L553.35 722.10Z"/>
<path class="a" d="M555.10 773.90L553.35 766.40L556.85 766.40Z"/>
<path class="t" d="M505.10 714.50L558.80 714.50"/>
<path class="t" d="M505.10 773.50L558.80 773.50"/>
<text transform="translate(554.00 763.20) rotate(-90) scale(0.855 1)" font-size="16.5">D8</text>
<text transform="translate(554.00 741.77) rotate(-90) scale(0.76 1)" font-size="13">G6</text>
<path class="t" d="M455.10 803.50L512.40 803.50"/>
<path class="a" d="M488.50 803.70L481.00 805.45L481.00 801.95Z"/>
<path class="a" d="M502.20 803.70L509.70 801.95L509.70 805.45Z"/>
<path class="t" d="M488.50 779.30L488.50 804.90"/>
<path class="t" d="M502.50 787.80L502.50 825.60"/>
<text transform="translate(466.60 801.30) scale(0.905 1)" font-size="15.6" text-anchor="middle">L7</text>
<path class="t" d="M449.50 823.50L502.20 823.50"/>
<path class="a" d="M449.50 823.90L457.00 822.15L457.00 825.65Z"/>
<path class="a" d="M502.20 823.90L494.70 825.65L494.70 822.15Z"/>
<path class="t" d="M449.50 757.30L449.50 825.20"/>
<text transform="translate(475.90 822.00) scale(0.905 1)" font-size="15.6" text-anchor="middle">L6</text>
<path class="k" d="M655.50 704.40L724.50 704.40L730.10 710.00L730.10 778.00L724.50 783.60L655.50 783.60L649.90 778.00L649.90 710.00Z" style="stroke-width:1.05"/>
<circle class="t" cx="690.00" cy="744.60" r="46.60"/>
<circle class="k" cx="690.00" cy="744.60" r="33.30"/>
<circle class="k" cx="690.00" cy="744.60" r="25.40"/>
<circle class="k" cx="690.00" cy="744.60" r="18.70"/>
<circle class="k" cx="690.00" cy="744.60" r="8.30"/>
<circle class="k" cx="676.32" cy="712.38" r="4.80" fill="#fff" style="stroke-width:1.5"/>
<circle class="m" cx="676.32" cy="712.38" r="2.20"/>
<circle class="k" cx="722.22" cy="730.92" r="4.80" fill="#fff" style="stroke-width:1.5"/>
<circle class="m" cx="722.22" cy="730.92" r="2.20"/>
<circle class="k" cx="703.68" cy="776.82" r="4.80" fill="#fff" style="stroke-width:1.5"/>
<circle class="m" cx="703.68" cy="776.82" r="2.20"/>
<circle class="k" cx="657.78" cy="758.28" r="4.80" fill="#fff" style="stroke-width:1.5"/>
<circle class="m" cx="657.78" cy="758.28" r="2.20"/>
<rect class="k" x="655.30" y="709.70" width="4.00" height="4.00" rx="1.2" style="stroke-width:1.0"/>
<circle class="f" cx="657.30" cy="711.70" r="1.15"/>
<rect class="k" x="655.30" y="774.80" width="4.00" height="4.00" rx="1.2" style="stroke-width:1.0"/>
<circle class="f" cx="657.30" cy="776.80" r="1.15"/>
<rect class="k" x="720.70" y="709.70" width="4.00" height="4.00" rx="1.2" style="stroke-width:1.0"/>
<circle class="f" cx="722.70" cy="711.70" r="1.15"/>
<rect class="k" x="720.70" y="774.80" width="4.00" height="4.00" rx="1.2" style="stroke-width:1.0"/>
<circle class="f" cx="722.70" cy="776.80" r="1.15"/>
<circle class="k" cx="702.40" cy="736.60" r="3.10"/>
<circle class="k" cx="704.90" cy="744.90" r="3.10"/>
<path class="k" d="M674.20 731.40L673.10 731.40L671.70 743.80L671.70 756.60L673.60 756.60L674.60 754.20" style="stroke-width:1.0"/>
<path class="k" d="M671.70 743.90L680.80 743.90" style="stroke-width:1.0"/>
<path class="k" d="M671.70 745.50L680.80 745.50" style="stroke-width:1.0"/>
<rect class="f" x="672.40" y="731.00" width="1.80" height="2.00"/>
<path class="t" d="M656.50 744.50L725.00 744.50"/>
<path class="t" d="M690.50 711.60L690.50 777.10"/>
<text transform="translate(640.80 693.20) scale(0.905 1)" font-size="15.6">4-D10</text>
<path class="t" d="M643.90 694.50L667.30 694.50"/>
<path class="a" d="M655.00 694.70L647.50 696.45L647.50 692.95Z"/>
<path class="a" d="M659.00 694.70L666.50 692.95L666.50 696.45Z"/>
<path class="t" d="M655.50 694.30L655.50 708.00"/>
<path class="t" d="M659.50 694.30L659.50 708.00"/>
<path class="t" d="M605.90 711.70L735.20 761.50"/>
<path class="a" d="M646.51 727.86L654.14 728.92L652.88 732.19Z"/>
<path class="a" d="M733.49 761.34L725.86 760.28L727.12 757.01Z"/>
<g transform="translate(614.9 712.4) rotate(21.05)">
<g transform="translate(4.00 -4.60) rotate(0)"><ellipse class="s" cx="0" cy="0" rx="3.3" ry="4.1" transform="rotate(18)"/><path class="s" d="M-2.6 5.6L2.8 -5.8"/></g>
<text transform="translate(10.80 0.00) scale(0.905 1)" font-size="15.6">D9</text>
</g>
<path class="t" d="M649.80 811.50L730.00 811.50"/>
<path class="a" d="M649.80 811.20L657.30 809.45L657.30 812.95Z"/>
<path class="a" d="M730.00 811.20L722.50 812.95L722.50 809.45Z"/>
<path class="t" d="M649.50 784.50L649.50 813.00"/>
<path class="t" d="M730.50 784.50L730.50 813.00"/>
<rect class="sq" x="675.60" y="800.30" width="7.80" height="7.60"/>
<text transform="translate(686.80 809.00) scale(0.905 1)" font-size="15.6">A2</text>
<path class="tb" d="M86.40 947.50L754.40 947.50"/>
<path class="tb" d="M86.40 970.50L754.40 970.50"/>
<path class="tb" d="M86.40 990.50L754.40 990.50"/>
<path class="tb" d="M86.40 1010.50L754.40 1010.50"/>
<path class="tb" d="M86.40 1034.50L754.40 1034.50"/>
<path class="tb" d="M86.50 947.00L86.50 1034.10"/>
<path class="tb" d="M754.50 947.00L754.50 1034.10"/>
<path class="tb" d="M113.50 970.60L113.50 1010.20"/>
<path class="tb" d="M139.50 970.60L139.50 1010.20"/>
<path class="tb" d="M166.50 970.60L166.50 1010.20"/>
<path class="tb" d="M193.50 970.60L193.50 1010.20"/>
<path class="tb" d="M220.50 970.60L220.50 1010.20"/>
<path class="tb" d="M246.50 970.60L246.50 1010.20"/>
<path class="tb" d="M273.50 970.60L273.50 1010.20"/>
<path class="tb" d="M300.50 970.60L300.50 1010.20"/>
<path class="tb" d="M326.50 970.60L326.50 1010.20"/>
<path class="tb" d="M353.50 970.60L353.50 1010.20"/>
<path class="tb" d="M380.50 970.60L380.50 1010.20"/>
<path class="tb" d="M407.50 970.60L407.50 1010.20"/>
<path class="tb" d="M433.50 970.60L433.50 1010.20"/>
<path class="tb" d="M460.50 970.60L460.50 1010.20"/>
<path class="tb" d="M487.50 970.60L487.50 1010.20"/>
<path class="tb" d="M513.50 970.60L513.50 1010.20"/>
<path class="tb" d="M540.50 970.60L540.50 1010.20"/>
<path class="tb" d="M567.50 970.60L567.50 1010.20"/>
<path class="tb" d="M594.50 970.60L594.50 1010.20"/>
<path class="tb" d="M620.50 970.60L620.50 1010.20"/>
<path class="tb" d="M647.50 970.60L647.50 1010.20"/>
<path class="tb" d="M674.50 970.60L674.50 1010.20"/>
<path class="tb" d="M700.50 970.60L700.50 1010.20"/>
<path class="tb" d="M727.50 970.60L727.50 1010.20"/>
<text x="420.00" y="963.60" font-size="14" text-anchor="middle" textLength="54.80" lengthAdjust="spacingAndGlyphs" class="tt">PRL90–L2</text>
<text x="99.76" y="984.90" font-size="13" text-anchor="middle" textLength="11.60" lengthAdjust="spacingAndGlyphs" class="tt">D1</text>
<text x="99.76" y="1005.10" font-size="13" text-anchor="middle" textLength="11.90" lengthAdjust="spacingAndGlyphs" class="tt">80</text>
<text x="126.48" y="984.90" font-size="13" text-anchor="middle" textLength="11.60" lengthAdjust="spacingAndGlyphs" class="tt">D2</text>
<text x="126.48" y="1005.10" font-size="13" text-anchor="middle" textLength="11.90" lengthAdjust="spacingAndGlyphs" class="tt">M6</text>
<text x="153.20" y="984.90" font-size="13" text-anchor="middle" textLength="11.60" lengthAdjust="spacingAndGlyphs" class="tt">D3</text>
<text x="153.20" y="1005.10" font-size="13" text-anchor="middle" textLength="11.90" lengthAdjust="spacingAndGlyphs" class="tt">20</text>
<text x="179.92" y="984.90" font-size="13" text-anchor="middle" textLength="11.60" lengthAdjust="spacingAndGlyphs" class="tt">D4</text>
<text x="179.92" y="1005.10" font-size="13" text-anchor="middle" textLength="11.90" lengthAdjust="spacingAndGlyphs" class="tt">25</text>
<text x="206.64" y="984.90" font-size="13" text-anchor="middle" textLength="11.60" lengthAdjust="spacingAndGlyphs" class="tt">D5</text>
<text x="206.64" y="1005.10" font-size="13" text-anchor="middle" textLength="11.90" lengthAdjust="spacingAndGlyphs" class="tt">68</text>
<text x="233.36" y="984.90" font-size="13" text-anchor="middle" textLength="11.60" lengthAdjust="spacingAndGlyphs" class="tt">D6</text>
<text x="233.36" y="1005.10" font-size="13" text-anchor="middle" textLength="11.90" lengthAdjust="spacingAndGlyphs" class="tt">90</text>
<text x="260.08" y="984.90" font-size="13" text-anchor="middle" textLength="11.60" lengthAdjust="spacingAndGlyphs" class="tt">D7</text>
<text x="260.08" y="1005.10" font-size="13" text-anchor="middle" textLength="11.90" lengthAdjust="spacingAndGlyphs" class="tt">19</text>
<text x="286.80" y="984.90" font-size="13" text-anchor="middle" textLength="11.60" lengthAdjust="spacingAndGlyphs" class="tt">D8</text>
<text x="286.80" y="1005.10" font-size="13" text-anchor="middle" textLength="11.90" lengthAdjust="spacingAndGlyphs" class="tt">70</text>
<text x="313.52" y="984.90" font-size="13" text-anchor="middle" textLength="11.60" lengthAdjust="spacingAndGlyphs" class="tt">D9</text>
<text x="313.52" y="1005.10" font-size="13" text-anchor="middle" textLength="11.90" lengthAdjust="spacingAndGlyphs" class="tt">90</text>
<text x="340.24" y="984.90" font-size="13" text-anchor="middle" textLength="17.60" lengthAdjust="spacingAndGlyphs" class="tt">D10</text>
<text x="340.24" y="1005.10" font-size="13" text-anchor="middle" textLength="11.90" lengthAdjust="spacingAndGlyphs" class="tt">M5</text>
<text x="366.96" y="984.90" font-size="13" text-anchor="middle" textLength="11.60" lengthAdjust="spacingAndGlyphs" class="tt">L1</text>
<text x="366.96" y="1005.10" font-size="13" text-anchor="middle" textLength="11.90" lengthAdjust="spacingAndGlyphs" class="tt">36</text>
<text x="393.68" y="984.90" font-size="13" text-anchor="middle" textLength="11.60" lengthAdjust="spacingAndGlyphs" class="tt">L2</text>
<text x="393.68" y="1005.10" font-size="13" text-anchor="middle" textLength="19.50" lengthAdjust="spacingAndGlyphs" class="tt">40.5</text>
<text x="420.40" y="984.90" font-size="13" text-anchor="middle" textLength="11.60" lengthAdjust="spacingAndGlyphs" class="tt">L3</text>
<text x="420.40" y="1005.10" font-size="13" text-anchor="middle" textLength="5.80" lengthAdjust="spacingAndGlyphs" class="tt">3</text>
<text x="447.12" y="984.90" font-size="13" text-anchor="middle" textLength="11.60" lengthAdjust="spacingAndGlyphs" class="tt">L4</text>
<text x="447.12" y="1005.10" font-size="13" text-anchor="middle" textLength="11.90" lengthAdjust="spacingAndGlyphs" class="tt">32</text>
<text x="473.84" y="984.90" font-size="13" text-anchor="middle" textLength="11.60" lengthAdjust="spacingAndGlyphs" class="tt">L5</text>
<text x="473.84" y="1005.10" font-size="13" text-anchor="middle" textLength="23.40" lengthAdjust="spacingAndGlyphs" class="tt">104.5</text>
<text x="500.56" y="984.90" font-size="13" text-anchor="middle" textLength="11.60" lengthAdjust="spacingAndGlyphs" class="tt">L6</text>
<text x="500.56" y="1005.10" font-size="13" text-anchor="middle" textLength="11.90" lengthAdjust="spacingAndGlyphs" class="tt">47</text>
<text x="527.28" y="984.90" font-size="13" text-anchor="middle" textLength="11.60" lengthAdjust="spacingAndGlyphs" class="tt">L7</text>
<text x="527.28" y="1005.10" font-size="13" text-anchor="middle" textLength="5.80" lengthAdjust="spacingAndGlyphs" class="tt">6</text>
<text x="554.00" y="984.90" font-size="13" text-anchor="middle" textLength="11.60" lengthAdjust="spacingAndGlyphs" class="tt">A2</text>
<text x="554.00" y="1005.10" font-size="13" text-anchor="middle" textLength="11.90" lengthAdjust="spacingAndGlyphs" class="tt">90</text>
<text x="580.72" y="984.90" font-size="13" text-anchor="middle" textLength="11.60" lengthAdjust="spacingAndGlyphs" class="tt">S1</text>
<text x="580.72" y="1005.10" font-size="13" text-anchor="middle" textLength="5.80" lengthAdjust="spacingAndGlyphs" class="tt">3</text>
<text x="607.44" y="984.90" font-size="13" text-anchor="middle" textLength="11.60" lengthAdjust="spacingAndGlyphs" class="tt">S2</text>
<text x="607.44" y="1005.10" font-size="13" text-anchor="middle" textLength="11.90" lengthAdjust="spacingAndGlyphs" class="tt">25</text>
<text x="634.16" y="984.90" font-size="13" text-anchor="middle" textLength="11.60" lengthAdjust="spacingAndGlyphs" class="tt">S3</text>
<text x="634.16" y="1005.10" font-size="13" text-anchor="middle" textLength="5.80" lengthAdjust="spacingAndGlyphs" class="tt">6</text>
<text x="660.88" y="984.90" font-size="13" text-anchor="middle" textLength="11.60" lengthAdjust="spacingAndGlyphs" class="tt">S4</text>
<text x="660.88" y="1005.10" font-size="13" text-anchor="middle" textLength="11.90" lengthAdjust="spacingAndGlyphs" class="tt">18</text>
<text x="687.60" y="984.90" font-size="13" text-anchor="middle" textLength="6.00" lengthAdjust="spacingAndGlyphs" class="tt">B</text>
<text x="687.60" y="1005.10" font-size="13" text-anchor="middle" textLength="5.80" lengthAdjust="spacingAndGlyphs" class="tt">6</text>
<text x="714.32" y="984.90" font-size="13" text-anchor="middle" textLength="6.00" lengthAdjust="spacingAndGlyphs" class="tt">H</text>
<text x="714.32" y="1005.10" font-size="13" text-anchor="middle" textLength="19.50" lengthAdjust="spacingAndGlyphs" class="tt">22.5</text>
<text x="741.04" y="984.90" font-size="13" text-anchor="middle" textLength="6.00" lengthAdjust="spacingAndGlyphs" class="tt">C</text>
<text x="741.04" y="1005.10" font-size="13" text-anchor="middle" textLength="11.90" lengthAdjust="spacingAndGlyphs" class="tt">M6</text>
<text class="cj" x="94.00" y="1027.00" font-size="13.8">客户定制</text>
</svg>
</body></html>
